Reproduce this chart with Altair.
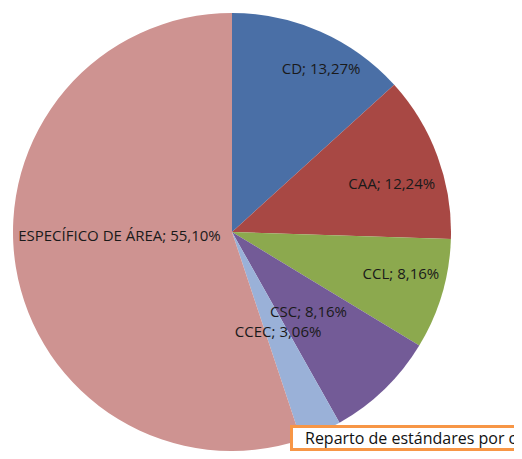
import altair as alt
import pandas as pd
import math

# ---- data ----
categories = ["CD", "CAA", "CCL", "CSC", "CCEC", "ESPECÍFICO DE ÁREA"]
values = [13.27, 12.24, 8.16, 8.16, 3.06, 55.10]
pct_labels = ["13,27%", "12,24%", "8,16%", "8,16%", "3,06%", "55,10%"]
box_text = "Reparto de estándares por competencias"

# ---- style ----
colors = ["#4A6FA6", "#A84844", "#8CA94E", "#735B97", "#9AB1D8", "#CE9391"]
label_radius = [178, 167, 172, 110, 109, 114]
label_dx = [17, 3, 4, 0, 2, 0]
label_dy = [0, 10, -7, 1, 0, -14]

df = pd.DataFrame({
    "cat": categories,
    "value": values,
    "pct": pct_labels,
    "order": list(range(len(categories))),
})
total = sum(values)

CX, CY, R = 224, 224, 219

pie = alt.Chart(df).mark_arc(outerRadius=R).encode(
    x=alt.value(CX),
    y=alt.value(CY),
    theta=alt.Theta("value:Q", stack=True),
    color=alt.Color("cat:N", scale=alt.Scale(domain=categories, range=colors), legend=None),
    order=alt.Order("order:Q"),
)

layers = [pie]
for i, c in enumerate(categories):
    t = (
        alt.Chart(df)
        .transform_window(cum="sum(value)", sort=[{"field": "order"}], frame=[None, 0])
        .transform_calculate(mid="datum.cum - datum.value / 2",
                             label="datum.cat + '; ' + datum.pct")
        .transform_filter(alt.datum.cat == c)
        .mark_text(radius=label_radius[i], dx=label_dx[i], dy=label_dy[i],
                   font="Open Sans", fontSize=15, color="#1a1a1a",
                   align="center", baseline="middle")
        .encode(
            x=alt.value(CX),
            y=alt.value(CY),
            theta=alt.Theta("mid:Q", scale=alt.Scale(domain=[0, total], range=[0, 2 * math.pi])),
            text="label:N",
        )
    )
    layers.append(t)

box_df = pd.DataFrame({"t": [box_text]})
box = alt.Chart(box_df).mark_rect(fill="white", stroke="#F79646", strokeWidth=3).encode(
    x=alt.value(283.5), x2=alt.value(620), y=alt.value(418.5), y2=alt.value(441.5)
)
box_t = alt.Chart(box_df).mark_text(align="left", baseline="alphabetic", font="Open Sans",
                                    fontSize=16, color="#111111").encode(
    x=alt.value(297), y=alt.value(436), text="t:N"
)
layers += [box, box_t]

chart = alt.layer(*layers).resolve_scale(theta="independent").properties(
    width=506, height=443,
    autosize=alt.AutoSizeParams(type="none"),
    padding=0,
).configure_view(stroke=None)

chart.save("out.html", embed_options={"renderer": "svg", "actions": False})
